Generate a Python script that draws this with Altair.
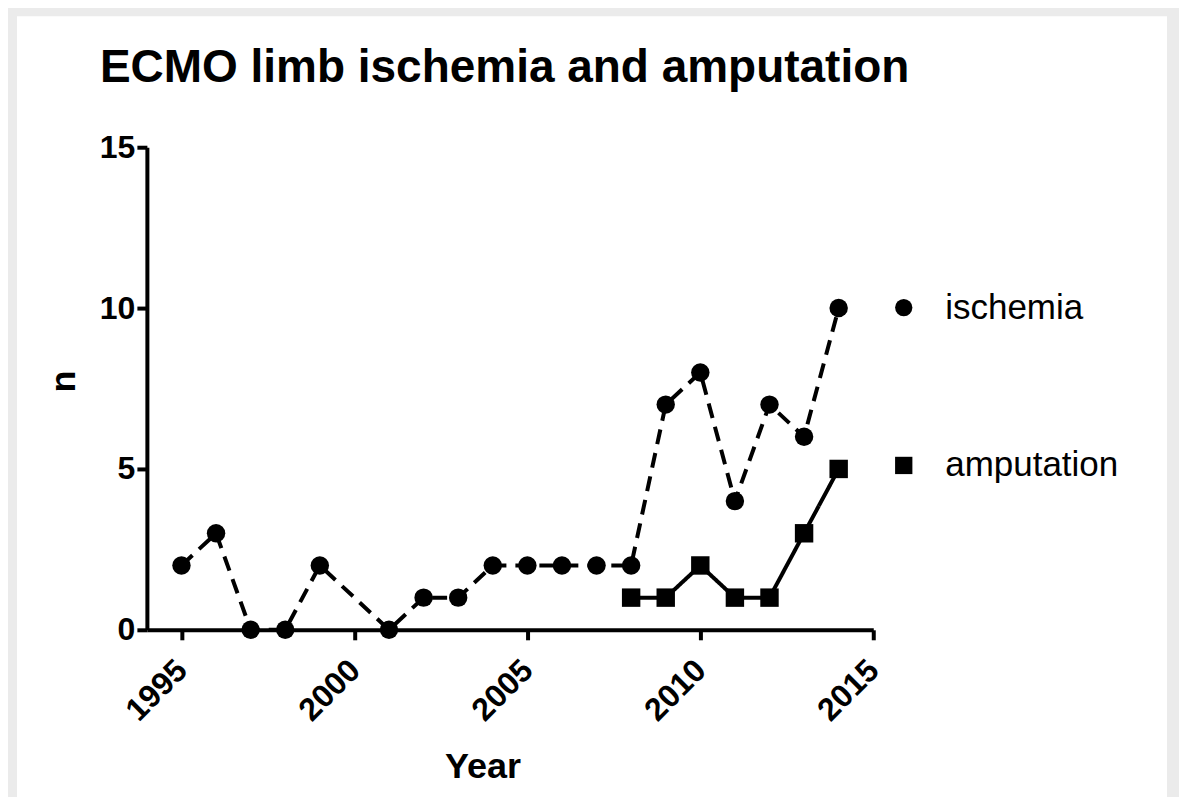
import altair as alt
import pandas as pd

# ---- data ----
isch_years = [1995, 1996, 1997, 1998, 1999, 2001, 2002, 2003, 2004, 2005,
              2006, 2007, 2008, 2009, 2010, 2011, 2012, 2013, 2014]
isch_vals = [2, 3, 0, 0, 2, 0, 1, 1, 2, 2, 2, 2, 2, 7, 8, 4, 7, 6, 10]
amp_years = [2008, 2009, 2010, 2011, 2012, 2013, 2014]
amp_vals = [1, 1, 2, 1, 1, 3, 5]
series_names = ["ischemia", "amputation"]
x_ticks = [1995, 2000, 2005, 2010, 2015]
y_ticks = [0, 5, 10, 15]

df = pd.concat([
    pd.DataFrame({"Year": isch_years, "n": isch_vals, "series": "ischemia"}),
    pd.DataFrame({"Year": amp_years, "n": amp_vals, "series": "amputation"}),
], ignore_index=True)

FONT = "Liberation Sans"

x_enc = alt.X("Year:Q",
              scale=alt.Scale(domain=[1994, 2015], nice=False, zero=False),
              axis=alt.Axis(values=x_ticks, format="d", labelAngle=315,
                            labelAlign="right", labelBaseline="middle",
                            labelPadding=25,
                            title="Year", titleX=336, titleY=148,
                            titleBaseline="alphabetic", titleAlign="center",
                            zindex=2))
y_enc = alt.Y("n:Q",
              scale=alt.Scale(domain=[0, 15], nice=False),
              axis=alt.Axis(values=y_ticks, title="n", titleAngle=270,
                            labelPadding=2,
                            titleX=-72, titleY=234, titleAlign="center",
                            titleBaseline="alphabetic", zindex=2))

# white panel behind the chart (decoration)
panel = alt.Chart(pd.DataFrame({"a": [0]})).mark_rect(color="white").encode(
    x=alt.value(-130), x2=alt.value(1021), y=alt.value(-131), y2=alt.value(660)
)

lines = alt.Chart(df).mark_line(color="black", strokeWidth=4).encode(
    x=x_enc, y=y_enc,
    strokeDash=alt.StrokeDash("series:N",
                              scale=alt.Scale(domain=series_names,
                                              range=[[15, 9], [1, 0]])),
)

points = alt.Chart(df).mark_point(filled=True, color="black", opacity=1,
                                  size=340).encode(
    x=x_enc, y=y_enc,
    shape=alt.Shape("series:N",
                    scale=alt.Scale(domain=series_names, range=["circle", "square"])),
)

chart = alt.layer(panel, lines, points).resolve_legend(
    shape="shared", strokeDash="shared"
).properties(
    width=727,
    height=483,
    title=alt.TitleParams("ECMO limb ischemia and amputation", fontSize=46,
                          fontWeight="bold", font=FONT, anchor="start",
                          dx=83, offset=-112, color="black",
                          baseline="alphabetic", zindex=2),
    autosize=alt.AutoSizeParams(type="none"),
    padding={"left": 139, "top": 139, "right": 306, "bottom": 167},
    background="#ebebeb",
).configure_view(stroke=None).configure_axis(
    grid=False,
    domainColor="black", domainWidth=4,
    tickColor="black", tickWidth=4, tickSize=10,
    labelFont=FONT, labelFontSize=32, labelFontWeight="bold", labelColor="black",
    titleFont=FONT, titleFontSize=36, titleFontWeight="bold", titleColor="black",
).configure_legend(
    orient="none", legendX=740, legendY=143, title=None,
    direction="vertical", rowPadding=122, padding=0, offset=0,
    labelOffset=24, labelFontSize=35, labelFont=FONT, labelColor="black",
    labelLimit=0,
    symbolSize=300, symbolFillColor="black", symbolStrokeColor="black",
    symbolStrokeWidth=4, symbolOpacity=1, zindex=2,
)

chart.save("out.html", embed_options={"renderer": "svg", "actions": False})
